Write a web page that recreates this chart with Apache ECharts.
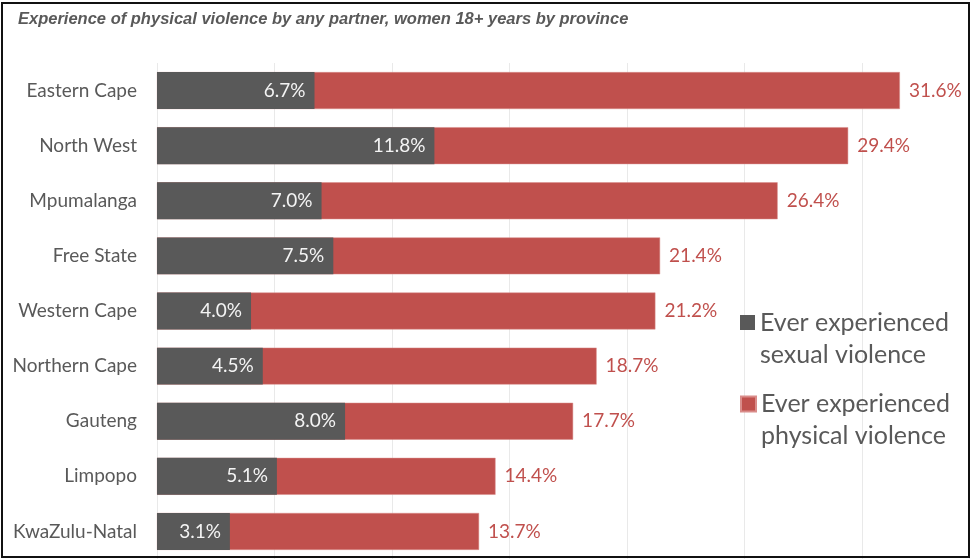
<!DOCTYPE html>
<html>
<head>
<meta charset="utf-8">
<title>Partner violence by province</title>
<script src="https://cdn.jsdelivr.net/npm/echarts@6/dist/echarts.min.js"></script>
<style>
  html, body { margin: 0; padding: 0; background: #ffffff; }
  #chart { width: 973px; height: 559px; }
</style>
</head>
<body>
<div id="chart"></div>
<script>
// Provinces, top to bottom
const provinces = ['Eastern Cape', 'North West', 'Mpumalanga', 'Free State', 'Western Cape',
                   'Northern Cape', 'Gauteng', 'Limpopo', 'KwaZulu-Natal'];
// Percentage of women 18+ who ever experienced each type of violence
const physicalViolence = [31.6, 29.4, 26.4, 21.4, 21.2, 18.7, 17.7, 14.4, 13.7];
const sexualViolence   = [6.7, 11.8, 7.0, 7.5, 4.0, 4.5, 8.0, 5.1, 3.1];
const seriesNames = ['Ever experienced sexual violence', 'Ever experienced physical violence'];
// Leading blank line keeps the first text line level with the legend square
const legendText = ['\nEver experienced\nsexual violence', '\nEver experienced\nphysical violence'];

const GREY = '#595959';
const RED = '#c0504d';
const FONT = 'Lato';

const chart = echarts.init(document.getElementById('chart'), null, { renderer: 'canvas' });

const pct = p => p.value.toFixed(1) + '%';

chart.setOption({
  backgroundColor: '#ffffff',
  animation: false,
  title: {
    text: 'Experience of physical violence by any partner, women 18+ years by province',
    left: 13, top: 6,
    textStyle: { fontFamily: 'Liberation Sans', fontStyle: 'italic', fontWeight: 'bold',
                 fontSize: 16.5, color: '#595959' }
  },
  // the plot runs on past the right edge; the axis ends where the frame is
  grid: { left: 157, top: 63, width: 812, height: 496, containLabel: false },
  xAxis: {
    type: 'value', min: 0, max: 34.54, interval: 5,
    axisLabel: { show: false }, axisTick: { show: false }, axisLine: { show: false },
    splitLine: { show: true, lineStyle: { color: '#e9e9e9', width: 1 } }
  },
  yAxis: {
    type: 'category', data: provinces, inverse: true,
    axisLine: { show: false }, axisTick: { show: false },
    axisLabel: { margin: 20, fontFamily: FONT, fontSize: 19, color: '#595959' }
  },
  legend: [0, 1].map(i => ({
    data: [seriesNames[i]],
    left: 740, top: [274.5, 356][i], padding: 0,
    orient: 'vertical',
    itemWidth: 15, itemHeight: 15, icon: 'rect',
    formatter: () => legendText[i],
    textStyle: { fontFamily: FONT, fontSize: 25, color: '#595959', lineHeight: 32 },
    selectedMode: false
  })),
  series: [
    {
      name: seriesNames[1], type: 'bar', data: physicalViolence,
      barWidth: '67%', barGap: '-100%',
      itemStyle: { color: RED, borderColor: '#d98c8a', borderWidth: 0.5 },
      label: { show: true, position: 'right', distance: 9, formatter: pct,
               fontFamily: FONT, fontSize: 19, color: RED }
    },
    {
      name: seriesNames[0], type: 'bar', data: sexualViolence,
      barWidth: '67%', barGap: '-100%',
      itemStyle: { color: GREY },
      label: { show: true, position: 'insideRight', distance: 9, formatter: pct,
               fontFamily: FONT, fontSize: 19, color: '#f4f4f4' }
    }
  ],
  graphic: [{
    type: 'rect', z: 100, silent: true,
    shape: { x: 2, y: 3, width: 967, height: 554 },
    style: { fill: 'none', stroke: '#111111', lineWidth: 2 }
  }]
});
</script>
</body>
</html>
